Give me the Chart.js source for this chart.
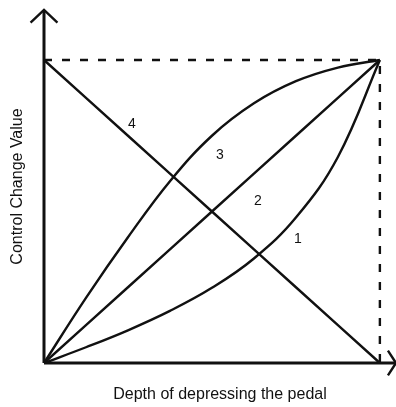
<!DOCTYPE html>
<html>
<head>
<meta charset="utf-8">
<script src="https://cdn.jsdelivr.net/npm/chart.js@4/dist/chart.umd.min.js"></script>
<style>
    html, body { margin: 0; padding: 0; background: #fff; }
    #wrap { width: 396px; height: 407px; }
</style>
</head>
<body>
<div id="wrap"><canvas id="chart"></canvas></div>
<script>
(function () {
    "use strict";

    // pedal depth (0..1) -> control change value (0..1)
    const depth = [0, 0.125, 0.25, 0.375, 0.5, 0.625, 0.75, 0.875, 1];
    const curve1 = [0, 0.052, 0.108, 0.172, 0.248, 0.345, 0.48, 0.68, 1];
    const curve2 = [0, 0.125, 0.25, 0.375, 0.5, 0.625, 0.75, 0.875, 1];
    const curve3 = [0, 0.215, 0.415, 0.6, 0.75, 0.857, 0.93, 0.975, 1];
    const curve4 = [1, 0.875, 0.75, 0.625, 0.5, 0.375, 0.25, 0.125, 0];

    // curve numbers and where they sit
    const curveNames = ["1", "2", "3", "4"];
    const nameX = [0.756, 0.637, 0.524, 0.262];
    const nameY = [0.409, 0.535, 0.686, 0.789];

    // axis extents (arrow tips) and arrow head sizes
    const X_END = 1.048;
    const Y_END = 1.165;
    const ARROW_X = 0.040, ARROW_Y = 0.042;
    const ARROW_RX = 0.024, ARROW_RY = 0.041;

    const INK = "#111";
    const FONT = "'Liberation Sans', Arial, sans-serif";
    const pts = (ys) => depth.map((x, i) => ({ x: x, y: ys[i] }));

    function line(data, extra) {
        return Object.assign({
            data: data, showLine: true, borderColor: INK, borderWidth: 2.4,
            pointRadius: 0, pointHoverRadius: 0, fill: false, clip: false, tension: 0,
        }, extra || {});
    }

    const curveLabels = {
        id: "curveLabels",
        afterDatasetsDraw(chart) {
            const { ctx, scales } = chart;
            ctx.save();
            ctx.fillStyle = INK;
            ctx.font = "14px " + FONT;
            ctx.textAlign = "center";
            ctx.textBaseline = "middle";
            curveNames.forEach((n, i) => {
                ctx.fillText(n, scales.x.getPixelForValue(nameX[i]), scales.y.getPixelForValue(nameY[i]));
            });
            ctx.restore();
        },
    };

    const titleFont = { family: FONT, size: 16 };

    new Chart(document.getElementById("chart"), {
        type: "scatter",
        data: {
            datasets: [
                // axes with arrow heads
                line([{ x: 0, y: 0 }, { x: 0, y: Y_END }], { borderWidth: 3 }),
                line([{ x: 0, y: 0 }, { x: X_END, y: 0 }], { borderWidth: 3 }),
                line([{ x: -ARROW_X, y: Y_END - ARROW_Y }, { x: 0, y: Y_END }, { x: ARROW_X, y: Y_END - ARROW_Y }]),
                line([{ x: X_END - ARROW_RX, y: ARROW_RY }, { x: X_END, y: 0 }, { x: X_END - ARROW_RX, y: -ARROW_RY }]),
                // dashed maximum box
                line([{ x: 0, y: 1 }, { x: 1, y: 1 }, { x: 1, y: 0 }], { borderDash: [8, 10] }),
                // the four curves
                line(pts(curve1), { tension: 0.4 }),
                line(pts(curve2)),
                line(pts(curve3), { tension: 0.4 }),
                line(pts(curve4)),
            ],
        },
        options: {
            responsive: true,
            maintainAspectRatio: false,
            animation: false,
            events: [],
            layout: { padding: { left: 0, right: 0, top: 10, bottom: 0 } },
            plugins: { legend: { display: false }, tooltip: { enabled: false } },
            scales: {
                x: {
                    type: "linear", min: 0, max: X_END,
                    grid: { display: false, drawTicks: false },
                    border: { display: false },
                    ticks: { display: false },
                    title: { display: true, text: "Depth of depressing the pedal", color: INK, font: titleFont, padding: { top: 22.4, bottom: 2.4 } },
                },
                y: {
                    type: "linear", min: 0, max: Y_END,
                    grid: { display: false, drawTicks: false },
                    border: { display: false },
                    ticks: { display: false },
                    title: { display: true, text: "Control Change Value", color: INK, font: titleFont, padding: { top: 8, bottom: 16.8 } },
                },
            },
        },
        plugins: [curveLabels],
    });
})();
</script>
</body>
</html>
